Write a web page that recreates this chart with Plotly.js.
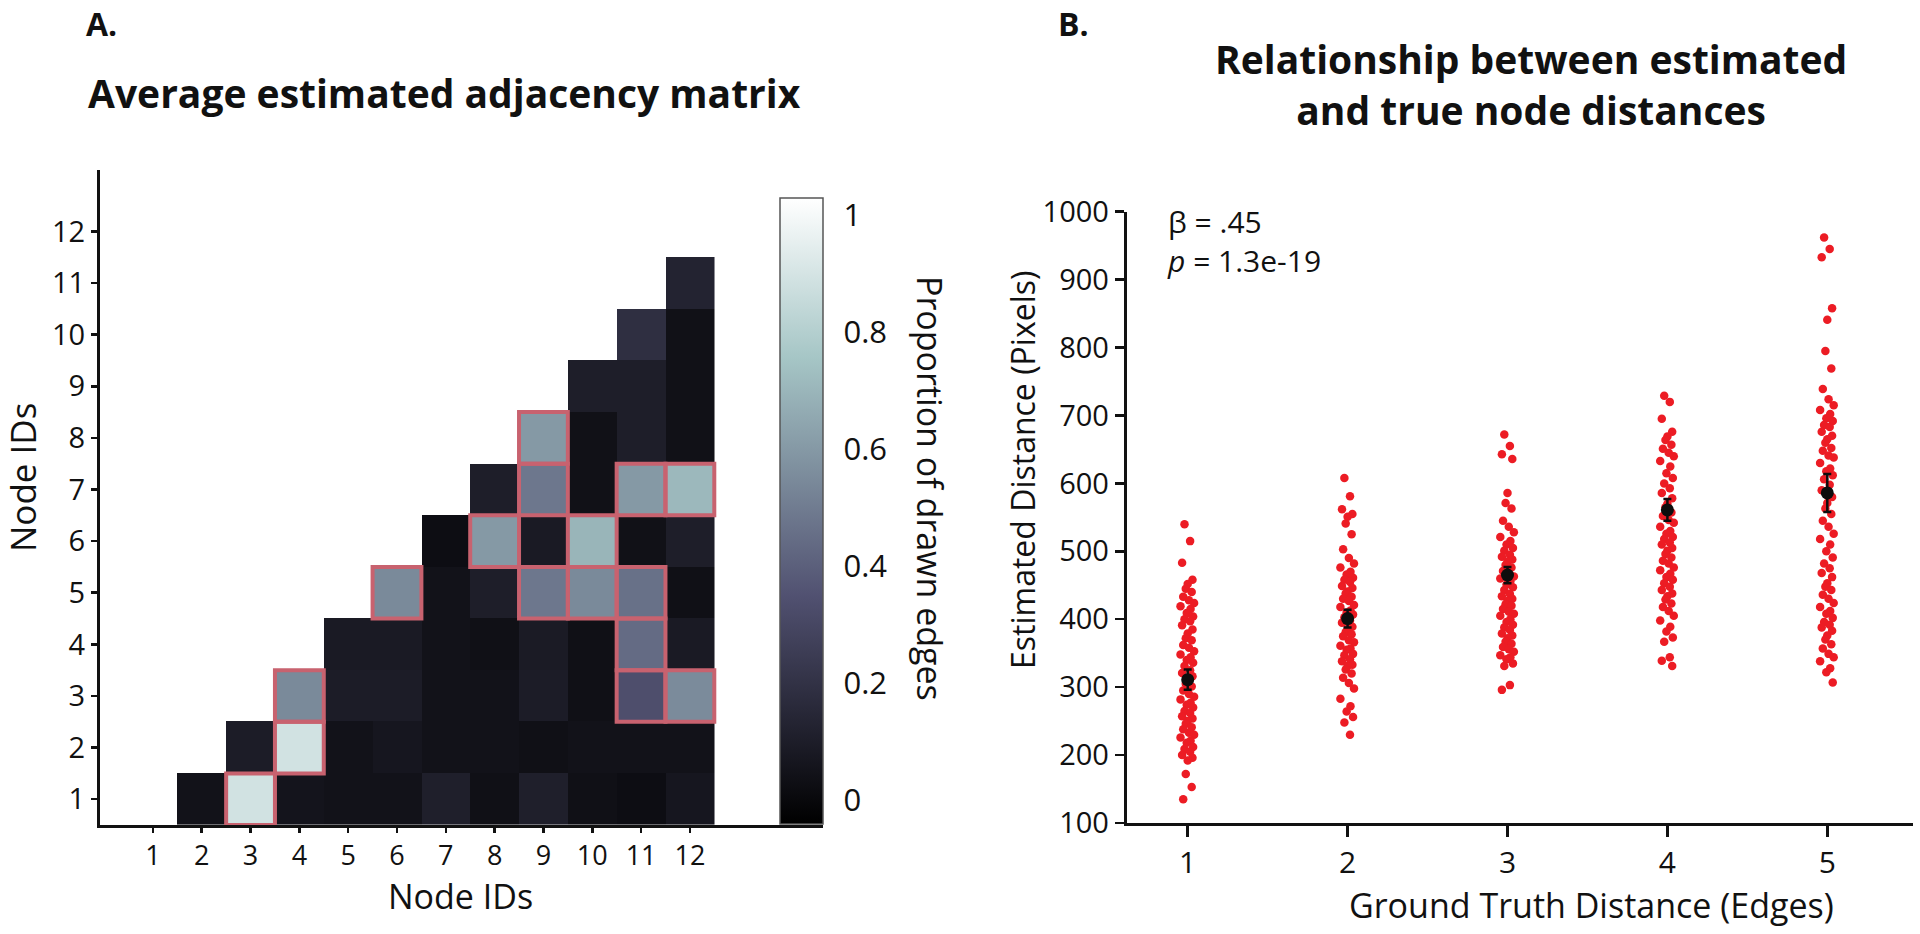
<!DOCTYPE html>
<html>
<head>
<meta charset="utf-8">
<script src="https://cdn.plot.ly/plotly-3.0.1.min.js"></script>
<style>
  html, body { margin: 0; padding: 0; background: #ffffff; }
  #chart { width: 1920px; height: 934px; }
</style>
</head>
<body>
<div id="chart"></div>
<script>
// ---------------- DATA ----------------
// Panel A: node ids and average estimated adjacency (row = y node, column = x node; null = not drawn)
const nodeIds = [1, 2, 3, 4, 5, 6, 7, 8, 9, 10, 11, 12];
const adjRow1  = [null, 0.045, 0.89, 0.055, 0.045, 0.045, 0.109, 0.034, 0.109, 0.034, 0.023, 0.066];
const adjRow2  = [null, null, 0.093, 0.89, 0.045, 0.066, 0.045, 0.045, 0.034, 0.045, 0.045, 0.045];
const adjRow3  = [null, null, null, 0.548, 0.093, 0.093, 0.045, 0.045, 0.093, 0.034, 0.334, 0.55];
const adjRow4  = [null, null, null, null, 0.082, 0.082, 0.045, 0.034, 0.088, 0.034, 0.44, 0.082];
const adjRow5  = [null, null, null, null, null, 0.548, 0.045, 0.102, 0.483, 0.548, 0.462, 0.034];
const adjRow6  = [null, null, null, null, null, null, 0.023, 0.601, 0.082, 0.697, 0.039, 0.102];
const adjRow7  = [null, null, null, null, null, null, null, 0.102, 0.483, 0.039, 0.601, 0.708];
const adjRow8  = [null, null, null, null, null, null, null, null, 0.601, 0.039, 0.102, 0.039];
const adjRow9  = [null, null, null, null, null, null, null, null, null, 0.102, 0.102, 0.039];
const adjRow10 = [null, null, null, null, null, null, null, null, null, null, 0.184, 0.039];
const adjRow11 = [null, null, null, null, null, null, null, null, null, null, null, 0.130];
const adjRow12 = [null, null, null, null, null, null, null, null, null, null, null, null];
// True graph edges [x node, y node], outlined in red
const trueEdges = [[3,1],[4,2],[4,3],[6,5],[8,6],[9,5],[9,7],[9,8],[10,5],[10,6],[11,3],[11,4],[11,5],[11,7],[12,3],[12,7]];
const colorbarTicks = [0, 0.2, 0.4, 0.6, 0.8, 1];
const colorbarLabels = ['0', '0.2', '0.4', '0.6', '0.8', '1'];

// Panel B: estimated distances (pixels) by ground-truth distance (edges)
const truthDistances = [1, 2, 3, 4, 5];
const estDist1 = [540, 515, 483, 458, 452, 445, 440, 433, 428, 424, 419, 415, 409, 404, 400, 397, 391, 385, 379, 372, 369, 362, 358, 353, 348, 344, 340, 336, 331, 325, 321, 316, 309, 305, 301, 295, 290, 286, 282, 277, 274, 270, 265, 262, 257, 254, 250, 246, 241, 238, 233, 230, 226, 221, 218, 212, 209, 205, 200, 196, 192, 172, 153, 135];
const estDist2 = [608, 581, 562, 555, 551, 541, 525, 503, 490, 482, 476, 470, 466, 461, 458, 455, 449, 446, 441, 438, 433, 430, 427, 421, 418, 413, 410, 407, 403, 398, 395, 389, 386, 381, 378, 375, 369, 366, 361, 357, 355, 349, 347, 341, 338, 333, 331, 326, 320, 314, 306, 298, 283, 272, 264, 256, 248, 230];
const estDist3 = [672, 655, 643, 636, 586, 571, 563, 545, 536, 528, 521, 515, 510, 505, 501, 495, 492, 488, 485, 480, 476, 471, 468, 463, 460, 456, 451, 447, 443, 437, 434, 430, 427, 422, 420, 415, 411, 408, 405, 400, 396, 392, 388, 384, 379, 376, 372, 367, 364, 359, 356, 352, 347, 344, 341, 335, 331, 303, 296];
const estDist4 = [729, 720, 695, 676, 669, 664, 657, 651, 645, 640, 633, 625, 615, 608, 600, 593, 586, 578, 570, 565, 557, 552, 546, 542, 536, 530, 526, 521, 518, 513, 510, 505, 501, 496, 491, 486, 482, 476, 472, 467, 462, 458, 453, 448, 443, 438, 434, 429, 423, 418, 412, 405, 398, 389, 382, 373, 367, 344, 339, 331];
const estDist5 = [962, 945, 933, 858, 841, 795, 769, 739, 724, 715, 708, 702, 696, 692, 686, 683, 676, 670, 665, 660, 652, 648, 641, 638, 630, 622, 618, 612, 606, 598, 590, 580, 571, 563, 555, 545, 536, 526, 518, 510, 500, 491, 482, 475, 468, 462, 453, 448, 443, 436, 430, 424, 418, 412, 408, 402, 396, 392, 388, 383, 376, 370, 363, 357, 349, 344, 338, 328, 322, 307];
const groupMeans = [311, 401, 465, 561, 586];
const groupErrors = [15, 13, 12, 16, 28];
// horizontal jitter offsets (edges units) used to spread the dots
const jitterOffsets = [-0.02, 0.015, -0.035, 0.03, 0.0, -0.012, 0.025, -0.028, 0.008, 0.04, -0.045, 0.018, -0.006, 0.034];
const statsText = 'β = .45<br><i>p</i> = 1.3e-19';

// ---------------- BUILD ----------------
const FONT = '"Open Sans", "Noto Sans", "DejaVu Sans", sans-serif';
const INK = '#111111';
const W = 1920, H = 934;
const px = v => v / W;          // paper x from pixel
const py = v => 1 - v / H;      // paper y from pixel

const adjacency = [adjRow1, adjRow2, adjRow3, adjRow4, adjRow5, adjRow6, adjRow7, adjRow8, adjRow9, adjRow10, adjRow11, adjRow12];

const boneScale = [
  [0, 'rgb(0,0,0)'],
  [0.365079, 'rgb(81,81,113)'],
  [0.746032, 'rgb(166,198,198)'],
  [1, 'rgb(255,255,255)']
];

const heat = {
  type: 'heatmap',
  x: nodeIds, y: nodeIds, z: adjacency,
  xaxis: 'x', yaxis: 'y',
  zmin: -0.041, zmax: 1.029,
  colorscale: boneScale,
  hoverongaps: false,
  colorbar: {
    x: px(780), xanchor: 'left', xref: 'paper',
    y: py(824), yanchor: 'bottom', yref: 'paper',
    len: 626 / H, lenmode: 'fraction',
    thickness: 43, thicknessmode: 'pixels',
    xpad: 0, ypad: 0,
    outlinewidth: 1.5, outlinecolor: '#555555',
    tickvals: colorbarTicks, ticktext: colorbarLabels,
    ticks: 'outside', ticklen: 14, tickcolor: 'rgba(0,0,0,0)',
    tickfont: { family: FONT, size: 31, color: INK }
  }
};

const dotX = [], dotY = [];
[estDist1, estDist2, estDist3, estDist4, estDist5].forEach((arr, gi) => {
  arr.forEach((v, i) => {
    dotX.push(truthDistances[gi] + jitterOffsets[i % jitterOffsets.length]);
    dotY.push(v);
  });
});

const dots = {
  type: 'scatter', mode: 'markers',
  x: dotX, y: dotY, xaxis: 'x2', yaxis: 'y2',
  marker: { color: '#ec1c24', size: 8.5, line: { width: 0 } },
  name: 'Estimates'
};

const means = {
  type: 'scatter', mode: 'markers',
  x: truthDistances, y: groupMeans, xaxis: 'x2', yaxis: 'y2',
  marker: { color: '#0d0d0d', size: 13 },
  error_y: { type: 'data', array: groupErrors, visible: true, color: '#0d0d0d', thickness: 2.5, width: 4 },
  name: 'Mean'
};

const edgeShapes = trueEdges.map(([ex, ey]) => ({
  type: 'rect', xref: 'x', yref: 'y',
  x0: ex - 0.5, x1: ex + 0.5, y0: ey - 0.5, y1: ey + 0.5,
  line: { color: '#c8626f', width: 4 },
  fillcolor: 'rgba(0,0,0,0)', layer: 'above'
}));

const axisCommon = {
  showline: true, linecolor: INK, linewidth: 3,
  ticks: 'outside', tickcolor: INK, tickwidth: 2.5,
  showgrid: false, zeroline: false, fixedrange: true
};

const layout = {
  width: W, height: H, autosize: false,
  margin: { l: 0, r: 0, t: 0, b: 0, pad: 0 },
  paper_bgcolor: '#ffffff', plot_bgcolor: '#ffffff',
  showlegend: false,
  font: { family: FONT, color: INK },
  xaxis: Object.assign({}, axisCommon, {
    domain: [px(100), px(823)], range: [-0.084, 14.727],
    tickvals: nodeIds, ticklen: 5,
    tickfont: { family: FONT, size: 27, color: INK },
    anchor: 'y'
  }),
  yaxis: Object.assign({}, axisCommon, {
    domain: [py(825), py(170)], range: [0.5, 13.19],
    tickvals: nodeIds, ticklen: 6,
    tickfont: { family: FONT, size: 29, color: INK },
    anchor: 'x'
  }),
  xaxis2: Object.assign({}, axisCommon, {
    domain: [px(1126.7), px(1913)], range: [0.6185, 5.536],
    tickvals: truthDistances, ticklen: 11,
    tickfont: { family: FONT, size: 30, color: INK },
    anchor: 'y2'
  }),
  yaxis2: Object.assign({}, axisCommon, {
    domain: [py(823), py(211.7)], range: [100, 1000],
    tickvals: [100, 200, 300, 400, 500, 600, 700, 800, 900, 1000], ticklen: 9,
    tickfont: { family: FONT, size: 29, color: INK },
    anchor: 'x2'
  }),
  shapes: edgeShapes,
  annotations: [
    { text: '<b>A.</b>', xref: 'paper', yref: 'paper', x: px(84), y: py(24), xanchor: 'left', yanchor: 'middle', showarrow: false, font: { family: FONT, size: 32, color: INK } },
    { text: '<b>Average estimated adjacency matrix</b>', xref: 'paper', yref: 'paper', x: px(86), y: py(93), xanchor: 'left', yanchor: 'middle', showarrow: false, font: { family: FONT, size: 39, color: INK } },
    { text: '<b>B.</b>', xref: 'paper', yref: 'paper', x: px(1056), y: py(24), xanchor: 'left', yanchor: 'middle', showarrow: false, font: { family: FONT, size: 32, color: INK } },
    { text: '<b>Relationship between estimated<br>and true node distances</b>', xref: 'paper', yref: 'paper', x: px(1531), y: py(84), xanchor: 'center', yanchor: 'middle', align: 'center', showarrow: false, font: { family: FONT, size: 39, color: INK } },
    { text: 'Node IDs', xref: 'paper', yref: 'paper', x: px(460), y: py(896), xanchor: 'center', yanchor: 'middle', showarrow: false, font: { family: FONT, size: 34, color: INK } },
    { text: 'Node IDs', xref: 'paper', yref: 'paper', x: px(22), y: py(478), xanchor: 'center', yanchor: 'middle', textangle: -90, showarrow: false, font: { family: FONT, size: 35, color: INK } },
    { text: 'Proportion of drawn edges', xref: 'paper', yref: 'paper', x: px(930), y: py(488), xanchor: 'center', yanchor: 'middle', textangle: 90, showarrow: false, font: { family: FONT, size: 34, color: INK } },
    { text: 'Estimated Distance (Pixels)', xref: 'paper', yref: 'paper', x: px(1022), y: py(470), xanchor: 'center', yanchor: 'middle', textangle: -90, showarrow: false, font: { family: FONT, size: 32, color: INK } },
    { text: 'Ground Truth Distance (Edges)', xref: 'paper', yref: 'paper', x: px(1591), y: py(905), xanchor: 'center', yanchor: 'middle', showarrow: false, font: { family: FONT, size: 34, color: INK } },
    { text: statsText, xref: 'paper', yref: 'paper', x: px(1165), y: py(241), xanchor: 'left', yanchor: 'middle', align: 'left', showarrow: false, font: { family: FONT, size: 30, color: INK } }
  ]
};

Plotly.newPlot('chart', [heat, dots, means], layout, { displayModeBar: false, staticPlot: true });
</script>
</body>
</html>
